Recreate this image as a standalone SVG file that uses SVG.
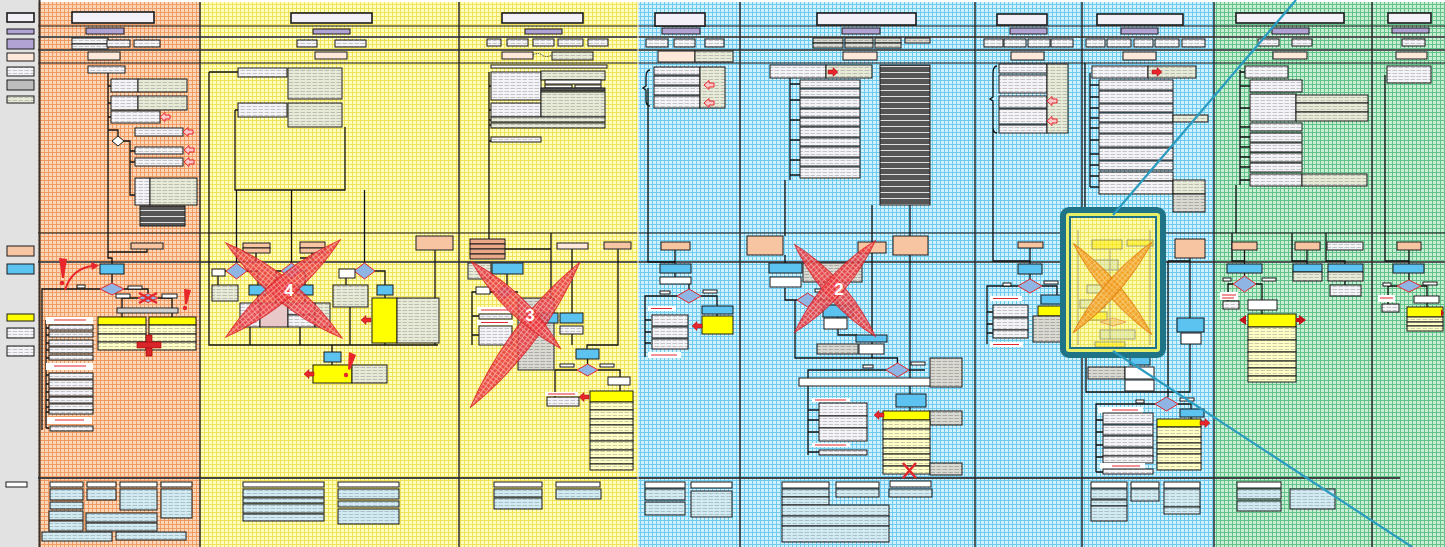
<svg xmlns="http://www.w3.org/2000/svg" width="1445" height="547" viewBox="0 0 1445 547">
<defs>
<pattern id="gO" width="4" height="4" patternUnits="userSpaceOnUse"><rect width="4" height="4" fill="#fbd6b8"/><path d="M0 .5H4M.5 0V4" stroke="#f09c62" stroke-width="1"/></pattern>
<pattern id="gY" width="4" height="4" patternUnits="userSpaceOnUse"><rect width="4" height="4" fill="#ffffc0"/><path d="M0 .5H4M.5 0V4" stroke="#f2e25a" stroke-width="1"/></pattern>
<pattern id="gB" width="4" height="4" patternUnits="userSpaceOnUse"><rect width="4" height="4" fill="#d0f1fd"/><path d="M0 .5H4M.5 0V4" stroke="#6ccbee" stroke-width="1"/></pattern>
<pattern id="gG" width="4" height="4" patternUnits="userSpaceOnUse"><rect width="4" height="4" fill="#c8eed4"/><path d="M0 .5H4M.5 0V4" stroke="#63c28a" stroke-width="1"/></pattern>
<pattern id="tW" width="6" height="3" patternUnits="userSpaceOnUse"><rect width="6" height="3" fill="#f4f3f8"/><path d="M.5 1.5H5" stroke="#a3a3a3" stroke-width=".6"/></pattern>
<pattern id="tB" width="6" height="3" patternUnits="userSpaceOnUse"><rect width="6" height="3" fill="#e7ead5"/><path d="M.5 1.5H5" stroke="#a0a0a0" stroke-width=".6"/></pattern>
<pattern id="tY" width="6" height="3" patternUnits="userSpaceOnUse"><rect width="6" height="3" fill="#ffffc6"/><path d="M.5 1.5H5" stroke="#a8a890" stroke-width=".6"/></pattern>
<pattern id="tL" width="6" height="3" patternUnits="userSpaceOnUse"><rect width="6" height="3" fill="#d2eaf2"/><path d="M.5 1.5H5" stroke="#8ea4ab" stroke-width=".6"/></pattern>
<pattern id="tG" width="6" height="3" patternUnits="userSpaceOnUse"><rect width="6" height="3" fill="#d9d9d2"/><path d="M.5 1.5H5" stroke="#8a8a8a" stroke-width=".6"/></pattern>
<pattern id="dS" width="4" height="6" patternUnits="userSpaceOnUse"><rect width="4" height="6" fill="#555"/><path d="M0 .5H4" stroke="#e0e0e0" stroke-width="1"/></pattern>
<pattern id="rh" width="4" height="4" patternUnits="userSpaceOnUse"><rect width="4" height="4" fill="#ec3237"/><path d="M0 .5H4M.5 0V4" stroke="#f6a3a3" stroke-width=".8"/></pattern>
<pattern id="oh" width="4" height="4" patternUnits="userSpaceOnUse"><rect width="4" height="4" fill="#f39a1f"/><path d="M0 .5H4M.5 0V4" stroke="#f9c870" stroke-width=".8"/></pattern>
<path id="aL" d="M0 0L5-4.5V-2H10V2H5V4.5Z"/>
<path id="aR" d="M0 0L-5-4.5V-2H-10V2H-5V4.5Z"/>
</defs>
<style>
.w{fill:url(#tW);stroke:#1a1a1a;stroke-width:1}
.t{fill:#f3f1f7;stroke:#1a1a1a;stroke-width:1.6}
.b{fill:url(#tB);stroke:#1a1a1a;stroke-width:1}
.g{fill:url(#tG);stroke:#1a1a1a;stroke-width:1}
.pk{fill:#f8c5a3;stroke:#1a1a1a;stroke-width:1}
.pl{fill:#fde8da;stroke:#1a1a1a;stroke-width:1}
.pu{fill:#b1a3d3;stroke:#1a1a1a;stroke-width:1}
.bl{fill:#5cc3f1;stroke:#1a1a1a;stroke-width:1}
.y{fill:#ffff00;stroke:#1a1a1a;stroke-width:1}
.ly{fill:url(#tY);stroke:#1a1a1a;stroke-width:1}
.lb{fill:url(#tL);stroke:#1a1a1a;stroke-width:1}
.dk{fill:url(#dS);stroke:#1a1a1a;stroke-width:1}
.hd{fill:#fff;stroke:#1a1a1a;stroke-width:1}
.dm{fill:#8fb5e4;stroke:#e3262c;stroke-width:1}
.rl{fill:#fff}
.ln{fill:none;stroke:#111;stroke-width:1.3}
.sep{stroke:#2b2b2b;stroke-width:1.5}
.ra{fill:#e8262b;stroke:#9c0d10;stroke-width:.5}
.ro{fill:#f9c8c8;stroke:#e8262b;stroke-width:1}
.xr{fill:url(#rh);stroke:#d81e24;stroke-width:1;opacity:.85}
.xo{fill:url(#oh);stroke:#e07d0c;stroke-width:1;opacity:.85}
.num{font-family:"Liberation Sans",Arial,sans-serif;font-weight:bold;font-size:17px;fill:#fff;text-anchor:middle}
</style>

<g id="background">
<rect x="0" y="0" width="1445" height="547" fill="#ffffff"/>
<rect x="0" y="0" width="38" height="547" fill="#e2e2e2"/>
<rect x="38" y="2" width="162" height="545" fill="url(#gO)"/>
<rect x="200" y="2" width="438" height="545" fill="url(#gY)"/>
<rect x="638" y="2" width="577" height="545" fill="url(#gB)"/>
<rect x="1215" y="2" width="230" height="545" fill="url(#gG)"/>
</g>

<g id="bands">
<path d="M38 26H1445" stroke="#111" stroke-width="1.2"/>
<path d="M38 37H1445M38 50H1445" stroke="#555" stroke-width="2"/>
<path d="M38 63H1445M38 233H1445" stroke="#111" stroke-width="1.2"/>
<path d="M38 262H1445" stroke="#555" stroke-width="2"/>
<path d="M38 478H1400" stroke="#444" stroke-width="2"/>
<path d="M39.5 0V547" stroke="#333" stroke-width="2"/>
<path d="M200 2V547M459 2V547M740 2V547M975 2V547M1082 2V547M1214 2V547M1372 2V547" class="sep"/>
<path d="M638 2V547" stroke="#f4f4e0" stroke-width="1"/>
</g>

<g id="legend">
<rect class="t" x="7" y="13" width="27" height="9"/>
<rect class="pu" x="7" y="29" width="27" height="5"/>
<rect class="pu" x="7" y="39" width="27" height="10"/>
<rect class="pl" x="7" y="53" width="27" height="8"/>
<rect class="w" x="7" y="67" width="27" height="9"/>
<rect class="g" x="7" y="80" width="27" height="10" style="fill:#bdbdbd"/>
<rect class="b" x="7" y="96" width="27" height="7"/>
<rect class="pk" x="7" y="246" width="27" height="10"/>
<rect class="bl" x="7" y="264" width="27" height="10"/>
<rect class="y" x="7" y="314" width="27" height="7"/>
<rect class="w" x="7" y="328" width="27" height="10"/>
<rect class="w" x="7" y="346" width="27" height="10"/>
<rect class="hd" x="6" y="482" width="21" height="5"/>
</g>

<g id="connectors">
<path class="ln" d="M108 73V252H147V249M108 252V258H112V264M112 274V283M100 289H42V430M124 289H148V293.5M138 298H122V308M158 298H172V308M122 313V317M172 313V317M108 86H111M108 103H111M108 117H111M108 130H118V136M124 141H130V195H135M130 151H135M130 162H135"/>
<path class="ln" d="M46 320V428M46 328H49M46 335H49M46 343H49M46 350H49M46 358H49M46 375H49M46 384H49M46 392H49M46 400H49M46 407H49M46 412H49M46 428H49"/>
<path class="ln" d="M209 72H238M209 72V345H438M235 110H238M235 110V190H345V127M236.5 190V263M291.5 190V263M364.5 190V263M226 271H218V285M247 271H258V285M281 271H276V303M302 271H305V285M354 271H346V285M375 271H385V285M385 295V298M258 295V303M305 295V303M256 253V263M312 253V258H300M435 250V345M250 327V345M300 327V345M350 307V345M385 342V345M332 345V353M332 362V365"/>
<path class="ln" d="M489 72V239M489 86H491M489 110H491M489 120H491M489 125H491M489 141H491M505 249H551V233M551 249V298M572 249V313M618 249V345H587V349M572 334V345M507 274V285M495 292H472V345M472 316H479M472 335H479M513 292H518M587.5 359V364M577 370H555V397M598 370H620V377M620 385V391"/>
<path class="ln" d="M648 88V262H675M675 250V264M675 273V277M689 284V289M677 296H645V357M645 320H651M645 332H651M645 343H651M701 296H717V306M717 314V316M650 70Q646 70 646 78V86L643 88L646 90V100Q646 106 650 106"/>
<path class="ln" d="M790 72V180M790 84H800M790 100H800M790 120H800M790 140H800M790 160H800M790 175H800M785 180V236M785 255V263M785 288V300H797M818 300H838V305M838 317V318M838 329V335H857M872 253V335M872 342V344M872 354V358M797 300H795V358H897.5V363M910 205V236M910 255V394M872 205V242M886 370H808V455M808 410H819M808 420H819M808 432H819M808 452H819M909 370H925M910 407V411"/>
<path class="ln" d="M997 66Q993 66 993 74V97L990 99L993 101V127Q993 133 997 133M993 101V261H1030V264M1030 248V261M1030 274V279M1018 286H987V344M987 312H993M987 324H993M987 333H993M1042 286H1057V295"/>
<path class="ln" d="M1085 63V212M1090 73V187M1090 85H1099M1090 97H1099M1090 108H1099M1090 118H1099M1090 128H1099M1090 140H1099M1090 154H1099M1090 165H1099M1090 176H1099M1090 187H1099M1086 355V392H1190V344M1190 258V318M1168 261H1190M1168 261V397M1155 404H1096V472M1096 420H1103M1096 432H1103M1096 445H1103M1096 457H1103M1096 472H1103M1178 404H1191V410M1191 417V419"/>
<path class="ln" d="M1240 70V185M1240 72H1245M1240 86H1250M1240 108H1250M1240 127H1250M1240 137H1250M1240 147H1250M1240 157H1250M1240 167H1250M1240 180H1250M1236 185V233M1232 233V261H1244.5M1244.5 250V264M1244.5 273V276M1233 284H1228V301M1256 284H1262V300M1262 310V314M1292 233V261H1307M1307 250V264M1326 233V261H1345V264M1345 281V285"/>
<path class="ln" d="M1385 75V261H1409M1409 250V264M1409 273V280M1397 286H1388V304M1421 286H1427V296M1427 303V307"/>
</g>

<g id="lane1">
<rect class="t" x="72" y="12" width="82" height="11"/>
<rect class="pu" x="86" y="28" width="38" height="6"/>
<rect class="w" x="72" y="38" width="36" height="6"/><rect class="w" x="72" y="44" width="36" height="5"/>
<rect class="w" x="107" y="40" width="23" height="7"/><rect class="w" x="134" y="40" width="26" height="7"/>
<rect class="pl" x="88" y="52" width="32" height="8"/>
<rect class="w" x="88" y="66" width="37" height="7"/>
<rect class="w" x="111" y="79" width="27" height="13"/><rect class="b" x="138" y="79" width="49" height="13"/>
<rect class="w" x="111" y="96" width="27" height="14"/><rect class="b" x="138" y="96" width="49" height="14"/>
<rect class="w" x="111" y="111" width="49" height="12"/>
<use href="#aL" class="ro" transform="translate(160 117)"/>
<polygon class="hd" points="112,141 118,136 124,141 118,146"/>
<rect class="w" x="135" y="128" width="48" height="8"/>
<use href="#aL" class="ro" transform="translate(183 132)"/>
<rect class="w" x="135" y="147" width="48" height="7"/>
<use href="#aL" class="ro" transform="translate(184 150)"/>
<rect class="w" x="135" y="158" width="48" height="8"/>
<use href="#aL" class="ro" transform="translate(184 162)"/>
<rect class="w" x="135" y="178" width="15" height="27"/><rect class="b" x="150" y="178" width="47" height="27"/>
<rect class="dk" x="140" y="206" width="45" height="20"/>
<rect class="pk" x="131" y="243" width="32" height="6"/>
<rect class="bl" x="100" y="264" width="24" height="10"/>
<polygon class="dm" points="100,289 112,283 124,289 112,295"/>
<rect class="hd" x="77" y="285" width="8" height="3"/>
<rect class="hd" x="128" y="286" width="14" height="3"/>
<polygon class="dm" points="138,298 148,293.5 158,298 148,302.5"/>
<path d="M139 293L157 303M139 303L157 293" stroke="#e3262c" stroke-width="2.5"/>
<rect class="hd" x="116" y="294" width="14" height="4"/><rect class="hd" x="162" y="294" width="15" height="4"/>
<rect x="117" y="308" width="61" height="5" fill="#d0d0d0" stroke="#222" stroke-width="1"/>
<rect class="y" x="98" y="317" width="48" height="8"/><rect class="y" x="149" y="317" width="47" height="8"/>
<rect class="ly" x="98" y="325" width="48" height="9"/><rect class="ly" x="98" y="334" width="48" height="8"/><rect class="ly" x="98" y="342" width="48" height="8"/>
<rect class="ly" x="149" y="325" width="47" height="9"/><rect class="ly" x="149" y="334" width="47" height="8"/><rect class="ly" x="149" y="342" width="47" height="8"/>
<rect x="146" y="335" width="6" height="21" fill="#d9262b" stroke="#900" stroke-width=".6"/>
<rect x="137" y="342" width="24" height="6" fill="#d9262b" stroke="#900" stroke-width=".6"/>
<rect class="rl" x="46" y="317" width="47" height="7"/>
<path d="M54 320H86" stroke="#e3262c" stroke-width="1"/>
<rect class="w" x="49" y="325" width="44" height="5"/><rect class="w" x="49" y="332" width="44" height="5"/><rect class="w" x="49" y="340" width="44" height="6"/><rect class="w" x="49" y="347" width="44" height="6"/><rect class="w" x="49" y="355" width="44" height="5"/>
<rect class="rl" x="46" y="363" width="47" height="7"/>
<path d="M54 366H86" stroke="#e3262c" stroke-width="1"/>
<rect class="w" x="49" y="373" width="44" height="6"/><rect class="w" x="49" y="380" width="44" height="8"/><rect class="w" x="49" y="389" width="44" height="7"/><rect class="w" x="49" y="397" width="44" height="6"/><rect class="w" x="49" y="404" width="44" height="6"/><rect class="w" x="49" y="410" width="44" height="4"/>
<rect class="rl" x="47" y="417" width="45" height="7"/>
<path d="M55 420H84" stroke="#e3262c" stroke-width="1"/>
<rect class="w" x="50" y="426" width="43" height="5"/>
<polygon points="59,258 67,259 64,278 62,278" fill="#e8262b"/><circle cx="62" cy="283" r="2.3" fill="#e8262b"/>
<polygon points="184,289 191,290 187,304 185,304" fill="#e8262b"/><circle cx="185" cy="308" r="2.2" fill="#e8262b"/>
<path d="M65 290Q72 268 93 266" fill="none" stroke="#e8262b" stroke-width="2"/>
<path d="M99 265.5L91 262L92 270Z" fill="#e8262b"/>
<rect class="hd" x="50" y="482" width="33" height="5"/><rect class="hd" x="87" y="482" width="29" height="5"/><rect class="hd" x="120" y="482" width="37" height="5"/><rect class="hd" x="161" y="482" width="31" height="5"/>
<rect class="lb" x="50" y="489" width="33" height="11"/><rect class="lb" x="50" y="502" width="33" height="7"/><rect class="lb" x="49" y="511" width="34" height="9"/><rect class="lb" x="49" y="521" width="34" height="10"/>
<rect class="lb" x="87" y="489" width="29" height="11"/><rect class="lb" x="120" y="489" width="37" height="21"/><rect class="lb" x="161" y="489" width="31" height="29"/>
<rect class="lb" x="86" y="513" width="71" height="9"/><rect class="lb" x="86" y="523" width="71" height="8"/><rect class="lb" x="42" y="532" width="70" height="9"/><rect class="lb" x="116" y="532" width="70" height="8"/>
</g>

<g id="lane2">
<rect class="t" x="291" y="13" width="81" height="10"/>
<rect class="pu" x="313" y="29" width="37" height="5"/>
<rect class="w" x="297" y="40" width="20" height="7"/><rect class="w" x="335" y="40" width="31" height="7"/>
<rect class="pl" x="315" y="52" width="32" height="7"/>
<rect class="w" x="238" y="68" width="49" height="9"/><rect class="b" x="288" y="68" width="54" height="31"/>
<rect class="w" x="238" y="103" width="49" height="14"/><rect class="b" x="288" y="103" width="54" height="24"/>
<rect class="pk" x="243" y="243" width="27" height="5"/><rect class="pk" x="243" y="248" width="27" height="5"/>
<rect class="pk" x="300" y="242" width="25" height="6"/><rect class="pk" x="300" y="248" width="25" height="5"/>
<rect class="pk" x="416" y="236" width="37" height="14"/>
<polygon class="dm" points="226,271 236.5,263 247,271 236.5,279"/>
<polygon class="dm" points="281,271 291.5,263 302,271 291.5,279"/>
<polygon class="dm" points="354,271 364.5,263 375,271 364.5,279"/>
<rect class="hd" x="212" y="269" width="13" height="7"/>
<rect class="hd" x="339" y="269" width="16" height="9"/>
<rect class="b" x="212" y="285" width="26" height="16"/>
<rect class="bl" x="249" y="285" width="17" height="10"/><rect class="bl" x="297" y="285" width="16" height="10"/>
<rect class="w" x="240" y="303" width="20" height="24"/><rect x="260" y="303" width="28" height="24" fill="#e8c8c8" stroke="#1a1a1a"/><rect class="w" x="288" y="303" width="27" height="12"/><rect class="w" x="288" y="315" width="27" height="12"/><rect class="b" x="315" y="303" width="15" height="24"/>
<rect class="b" x="333" y="285" width="35" height="22"/>
<rect class="bl" x="377" y="285" width="16" height="10"/>
<rect class="y" x="372" y="298" width="25" height="45"/><rect class="b" x="397" y="298" width="42" height="45"/>
<use href="#aL" class="ra" transform="translate(361 320)"/>
<rect class="bl" x="324" y="352" width="17" height="10"/>
<rect class="y" x="313" y="365" width="39" height="18"/><rect class="b" x="352" y="365" width="35" height="18"/>
<use href="#aL" class="ra" transform="translate(304 374)"/>
<polygon points="349,352 356,355 350,370 348,369" fill="#e8262b"/><circle cx="346" cy="375" r="2.2" fill="#e8262b"/>
<rect class="hd" x="243" y="482" width="81" height="5"/><rect class="hd" x="338" y="482" width="61" height="5"/>
<rect class="lb" x="243" y="489" width="81" height="8"/><rect class="lb" x="243" y="498" width="81" height="5"/><rect class="lb" x="243" y="504" width="81" height="9"/><rect class="lb" x="243" y="514" width="81" height="7"/>
<rect class="lb" x="338" y="489" width="61" height="10"/><rect class="lb" x="338" y="501" width="61" height="6"/><rect class="lb" x="338" y="509" width="61" height="15"/>
</g>

<g id="lane3">
<rect class="t" x="502" y="13" width="81" height="10"/>
<rect class="pu" x="525" y="29" width="37" height="5"/>
<rect class="w" x="487" y="39" width="14" height="7"/><rect class="w" x="507" y="39" width="21" height="7"/><rect class="w" x="533" y="39" width="21" height="7"/><rect class="w" x="558" y="39" width="25" height="7"/><rect class="w" x="588" y="39" width="20" height="7"/>
<rect class="pl" x="502" y="52" width="31" height="7"/>
<path d="M533 55Q538 52 542 55Q546 58 552 55" fill="none" stroke="#222" stroke-width=".8" stroke-dasharray="1.5 1"/>
<rect class="b" x="552" y="52" width="41" height="8"/>
<rect class="hd" x="491" y="65" width="116" height="3"/>
<rect class="w" x="491" y="72" width="50" height="28"/><rect class="b" x="541" y="71" width="64" height="9"/>
<rect class="hd" x="545" y="80" width="56" height="4"/><rect class="hd" x="545" y="85" width="27" height="3"/><rect class="hd" x="575" y="85" width="26" height="3"/>
<rect x="541" y="88" width="64" height="3" fill="#555" stroke="#1a1a1a"/>
<rect class="w" x="491" y="103" width="50" height="14"/><rect class="b" x="541" y="92" width="64" height="25"/>
<rect class="b" x="491" y="117" width="114" height="5"/><rect class="b" x="491" y="123" width="114" height="5"/>
<rect class="w" x="491" y="137" width="50" height="5"/>
<rect class="pk" x="470" y="239" width="35" height="5" style="fill:#e9a888"/><rect class="pk" x="470" y="244" width="35" height="5" style="fill:#e9a888"/><rect class="pk" x="470" y="249" width="35" height="5" style="fill:#e9a888"/><rect class="pk" x="470" y="254" width="35" height="5" style="fill:#e9a888"/>
<rect class="pl" x="557" y="243" width="31" height="6"/>
<rect class="pk" x="604" y="242" width="27" height="7"/>
<rect class="b" x="468" y="263" width="23" height="16"/><rect class="bl" x="492" y="263" width="31" height="11"/>
<polygon class="dm" points="495,292 504,285 513,292 504,299"/>
<rect class="hd" x="476" y="287" width="14" height="7"/>
<rect class="rl" x="477" y="307" width="36" height="6"/><path d="M481 310H508" stroke="#e3262c"/>
<rect class="w" x="479" y="314" width="33" height="5"/>
<rect class="rl" x="477" y="320" width="36" height="5"/><path d="M481 322.5H508" stroke="#e3262c"/>
<rect class="w" x="479" y="326" width="33" height="19"/>
<rect class="g" x="518" y="298" width="36" height="72"/>
<rect class="bl" x="540" y="313" width="18" height="10"/><rect class="bl" x="560" y="313" width="23" height="10"/>
<rect class="w" x="560" y="326" width="23" height="8"/>
<rect class="bl" x="576" y="349" width="23" height="10"/>
<polygon class="dm" points="577,370 587.5,364 598,370 587.5,376"/>
<rect class="hd" x="560" y="364" width="14" height="3"/><rect class="hd" x="600" y="364" width="14" height="3"/>
<rect class="hd" x="608" y="377" width="22" height="8"/>
<rect class="y" x="590" y="391" width="43" height="11"/>
<rect class="ly" x="590" y="402" width="43" height="8"/><rect class="ly" x="590" y="410" width="43" height="9"/><rect class="ly" x="590" y="419" width="43" height="6"/><rect class="ly" x="590" y="425" width="43" height="8"/><rect class="ly" x="590" y="433" width="43" height="8"/><rect class="ly" x="590" y="441" width="43" height="9"/><rect class="ly" x="590" y="450" width="43" height="8"/><rect class="ly" x="590" y="458" width="43" height="6"/><rect class="ly" x="590" y="464" width="43" height="6"/>
<use href="#aL" class="ra" transform="translate(579 397)"/>
<rect class="rl" x="545" y="392" width="33" height="4"/><path d="M548 394H575" stroke="#e3262c"/>
<rect class="w" x="547" y="397" width="32" height="9"/>
<rect class="hd" x="494" y="482" width="48" height="5"/><rect class="hd" x="556" y="482" width="44" height="5"/>
<rect class="lb" x="494" y="489" width="48" height="8"/><rect class="lb" x="494" y="498" width="48" height="11"/><rect class="lb" x="556" y="489" width="45" height="10"/>
</g>

<g id="lane4">
<rect class="t" x="655" y="13" width="50" height="13"/>
<rect class="pu" x="662" y="28" width="38" height="6"/>
<rect class="w" x="646" y="39" width="22" height="8"/><rect class="w" x="674" y="39" width="21" height="8"/><rect class="w" x="705" y="39" width="19" height="8"/>
<rect class="pl" x="658" y="51" width="37" height="11"/><rect class="b" x="695" y="51" width="38" height="11"/>
<rect class="w" x="654" y="67" width="46" height="8"/><rect class="w" x="654" y="76" width="46" height="9"/><rect class="w" x="654" y="86" width="46" height="9"/><rect class="w" x="654" y="96" width="46" height="12"/>
<rect class="b" x="700" y="67" width="25" height="41"/>
<use href="#aL" class="ro" transform="translate(704 85)"/>
<use href="#aL" class="ro" transform="translate(704 103)"/>
<rect class="pk" x="661" y="242" width="29" height="8"/>
<rect class="bl" x="660" y="264" width="31" height="9"/>
<rect class="hd" x="660" y="277" width="31" height="7"/>
<polygon class="dm" points="677,296 689,289 701,296 689,303"/>
<rect class="hd" x="660" y="291" width="10" height="3"/><rect class="hd" x="703" y="290" width="14" height="3"/>
<rect class="bl" x="702" y="306" width="31" height="8"/>
<rect class="y" x="702" y="316" width="31" height="18"/>
<use href="#aL" class="ra" transform="translate(692 326)"/>
<rect class="rl" x="648" y="306" width="28" height="5"/><path d="M651 308.5H672" stroke="#e3262c"/>
<rect class="w" x="652" y="315" width="36" height="11"/><rect class="w" x="652" y="327" width="36" height="11"/><rect class="w" x="652" y="339" width="36" height="10"/>
<rect class="rl" x="648" y="352" width="33" height="6"/><path d="M651 355H677" stroke="#e3262c"/>
<rect class="hd" x="645" y="482" width="40" height="6"/><rect class="hd" x="691" y="482" width="41" height="6"/>
<rect class="lb" x="645" y="489" width="40" height="11"/><rect class="lb" x="645" y="502" width="40" height="13"/><rect class="lb" x="691" y="491" width="41" height="26"/>
</g>

<g id="lane5">
<rect class="t" x="817" y="13" width="99" height="12"/>
<rect class="pu" x="842" y="28" width="38" height="6"/>
<rect class="g" x="813" y="38" width="30" height="5"/><rect class="g" x="845" y="38" width="28" height="5"/><rect class="g" x="875" y="38" width="26" height="5"/><rect class="g" x="905" y="38" width="25" height="5"/>
<rect class="g" x="813" y="43" width="30" height="5"/><rect class="g" x="845" y="43" width="28" height="5"/><rect class="g" x="875" y="43" width="26" height="5"/>
<rect class="pl" x="843" y="52" width="34" height="8"/>
<rect class="w" x="770" y="65" width="56" height="13"/><rect class="b" x="826" y="65" width="46" height="13"/>
<use href="#aR" class="ra" transform="translate(838 72)"/>
<rect class="w" x="800" y="80" width="60" height="8"/><rect class="w" x="800" y="89" width="60" height="8"/><rect class="w" x="800" y="98" width="60" height="10"/><rect class="w" x="800" y="109" width="60" height="8"/><rect class="w" x="800" y="118" width="60" height="8"/><rect class="w" x="800" y="127" width="60" height="10"/><rect class="w" x="800" y="138" width="60" height="8"/><rect class="w" x="800" y="147" width="60" height="10"/><rect class="w" x="800" y="158" width="60" height="8"/><rect class="w" x="800" y="167" width="60" height="11"/>
<rect class="dk" x="880" y="65" width="50" height="140"/>
<rect class="pk" x="747" y="236" width="36" height="19"/>
<rect class="pk" x="858" y="242" width="28" height="11"/>
<rect class="pk" x="893" y="236" width="35" height="19"/>
<rect class="bl" x="769" y="263" width="33" height="10"/><rect class="g" x="803" y="263" width="59" height="19"/>
<rect class="hd" x="770" y="277" width="31" height="10"/>
<polygon class="dm" points="797,300 807.5,293 818,300 807.5,307"/>
<rect class="hd" x="815" y="289" width="14" height="3"/>
<rect class="bl" x="823" y="305" width="30" height="12"/>
<rect class="hd" x="824" y="318" width="23" height="11"/>
<rect class="bl" x="856" y="335" width="31" height="7"/>
<rect class="g" x="817" y="344" width="41" height="10"/><rect class="hd" x="859" y="344" width="25" height="10"/>
<polygon class="dm" points="886,370 897.5,363 909,370 897.5,377"/>
<rect class="hd" x="863" y="365" width="10" height="3"/><rect class="hd" x="911" y="362" width="14" height="3"/>
<rect class="hd" x="799" y="378" width="132" height="8"/>
<rect class="g" x="930" y="358" width="32" height="29"/>
<rect class="bl" x="896" y="394" width="30" height="13"/>
<rect class="y" x="883" y="411" width="47" height="9"/><rect class="g" x="930" y="411" width="32" height="14"/>
<use href="#aL" class="ra" transform="translate(874 415)"/>
<rect class="ly" x="883" y="420" width="47" height="9"/><rect class="ly" x="883" y="429" width="47" height="10"/><rect class="ly" x="883" y="439" width="47" height="9"/><rect class="ly" x="883" y="448" width="47" height="6"/><rect class="ly" x="883" y="454" width="47" height="6"/><rect class="ly" x="883" y="460" width="47" height="6"/><rect class="ly" x="883" y="466" width="47" height="8"/>
<rect class="g" x="930" y="463" width="32" height="12"/>
<path d="M903 463L916 478M916 463L903 478" stroke="#e3262c" stroke-width="2.5"/>
<rect class="rl" x="812" y="398" width="38" height="4"/><path d="M815 400H846" stroke="#e3262c"/>
<rect class="w" x="819" y="403" width="48" height="13"/><rect class="w" x="819" y="416" width="48" height="12"/><rect class="w" x="819" y="428" width="48" height="13"/>
<rect class="rl" x="812" y="443" width="38" height="4"/><path d="M815 445H846" stroke="#e3262c"/>
<rect class="w" x="819" y="450" width="48" height="5"/>
<rect class="hd" x="782" y="482" width="47" height="6"/><rect class="hd" x="836" y="482" width="43" height="6"/><rect class="hd" x="890" y="481" width="41" height="6"/>
<rect class="lb" x="782" y="489" width="47" height="8"/><rect class="lb" x="782" y="497" width="47" height="8"/><rect class="lb" x="836" y="489" width="43" height="8"/><rect class="lb" x="889" y="489" width="43" height="8"/>
<rect class="lb" x="782" y="505" width="107" height="11"/><rect class="lb" x="782" y="516" width="107" height="10"/><rect class="lb" x="782" y="526" width="107" height="16"/>
</g>

<g id="lane6">
<rect class="t" x="997" y="14" width="50" height="11"/>
<rect class="pu" x="1010" y="28" width="37" height="6"/>
<rect class="w" x="984" y="39" width="19" height="8"/><rect class="w" x="1004" y="39" width="22" height="8"/><rect class="w" x="1028" y="39" width="22" height="8"/><rect class="w" x="1051" y="39" width="22" height="8"/>
<rect class="pl" x="1011" y="52" width="33" height="8"/>
<rect class="w" x="999" y="64" width="48" height="9"/><rect class="w" x="999" y="75" width="48" height="18"/><rect class="w" x="999" y="96" width="48" height="12"/><rect class="w" x="999" y="109" width="48" height="15"/><rect class="w" x="999" y="125" width="48" height="8"/>
<rect class="b" x="1047" y="64" width="21" height="69"/>
<use href="#aL" class="ro" transform="translate(1047 101)"/>
<use href="#aL" class="ro" transform="translate(1047 121)"/>
<rect class="pk" x="1018" y="242" width="25" height="6"/>
<rect class="bl" x="1018" y="264" width="24" height="10"/>
<polygon class="dm" points="1018,286 1030,279 1042,286 1030,293"/>
<rect class="hd" x="1003" y="283" width="8" height="3"/><rect class="hd" x="1044" y="281" width="14" height="3"/>
<rect class="bl" x="1041" y="295" width="31" height="9"/>
<rect class="y" x="1038" y="306" width="35" height="10"/>
<rect class="g" x="1033" y="316" width="44" height="26"/>
<rect class="rl" x="990" y="296" width="32" height="5"/><path d="M993 298.5H1018" stroke="#e3262c"/>
<rect class="w" x="993" y="305" width="35" height="12"/><rect class="w" x="993" y="318" width="35" height="12"/><rect class="w" x="993" y="330" width="35" height="8"/>
<rect class="rl" x="990" y="342" width="33" height="5"/><path d="M993 344.5H1019" stroke="#e3262c"/>
</g>

<g id="lane7">
<rect class="t" x="1097" y="14" width="86" height="11"/>
<rect class="pu" x="1121" y="28" width="37" height="6"/>
<rect class="w" x="1086" y="39" width="19" height="8"/><rect class="w" x="1107" y="39" width="24" height="8"/><rect class="w" x="1134" y="39" width="19" height="8"/><rect class="w" x="1155" y="39" width="24" height="8"/><rect class="w" x="1182" y="39" width="23" height="8"/>
<rect class="pl" x="1123" y="52" width="33" height="8"/>
<rect class="w" x="1092" y="66" width="56" height="12"/><rect class="b" x="1148" y="66" width="48" height="12"/>
<use href="#aR" class="ra" transform="translate(1162 72)"/>
<rect class="w" x="1099" y="80" width="74" height="10"/><rect class="w" x="1099" y="91" width="74" height="12"/><rect class="w" x="1099" y="104" width="74" height="8"/><rect class="w" x="1099" y="113" width="74" height="9"/><rect class="w" x="1099" y="123" width="74" height="10"/><rect class="w" x="1099" y="134" width="74" height="13"/><rect class="w" x="1099" y="148" width="74" height="12"/><rect class="w" x="1099" y="161" width="74" height="9"/><rect class="w" x="1099" y="172" width="74" height="9"/><rect class="w" x="1099" y="181" width="74" height="13"/>
<rect class="b" x="1173" y="115" width="35" height="7"/>
<rect class="b" x="1173" y="180" width="32" height="14"/><rect class="g" x="1173" y="194" width="32" height="18"/>
<rect class="pk" x="1175" y="239" width="30" height="19"/>
<rect class="bl" x="1177" y="318" width="27" height="14"/>
<rect class="hd" x="1181" y="333" width="20" height="11"/>
<rect class="bl" x="1130" y="357" width="20" height="8"/>
<rect class="g" x="1088" y="367" width="37" height="12"/><rect class="hd" x="1125" y="367" width="29" height="12"/><rect class="hd" x="1125" y="380" width="29" height="11"/>
<polygon class="dm" points="1155,404 1166.5,397 1178,404 1166.5,411"/>
<rect class="hd" x="1136" y="400" width="8" height="3"/><rect class="hd" x="1180" y="398" width="14" height="3"/>
<rect class="bl" x="1180" y="409" width="24" height="8"/>
<rect class="y" x="1157" y="419" width="44" height="8"/>
<rect class="ly" x="1157" y="427" width="44" height="10"/><rect class="ly" x="1157" y="437" width="44" height="6"/><rect class="ly" x="1157" y="443" width="44" height="6"/><rect class="ly" x="1157" y="449" width="44" height="5"/><rect class="ly" x="1157" y="454" width="44" height="9"/><rect class="ly" x="1157" y="463" width="44" height="7"/>
<use href="#aR" class="ra" transform="translate(1210 423)"/>
<rect class="rl" x="1098" y="407" width="45" height="6"/><path d="M1112 410H1138" stroke="#e3262c"/>
<rect class="w" x="1103" y="413" width="50" height="11"/><rect class="w" x="1103" y="425" width="50" height="10"/><rect class="w" x="1103" y="436" width="50" height="11"/><rect class="w" x="1103" y="448" width="50" height="8"/><rect class="w" x="1103" y="456" width="50" height="7"/>
<rect class="rl" x="1100" y="463" width="45" height="6"/><path d="M1112 466H1140" stroke="#e3262c"/>
<rect class="w" x="1103" y="469" width="50" height="5"/>
<rect class="hd" x="1091" y="482" width="36" height="6"/><rect class="hd" x="1131" y="482" width="28" height="6"/><rect class="hd" x="1164" y="482" width="36" height="6"/>
<rect class="lb" x="1091" y="489" width="36" height="10"/><rect class="lb" x="1091" y="500" width="36" height="6"/><rect class="lb" x="1091" y="506" width="36" height="15"/><rect class="lb" x="1131" y="489" width="28" height="12"/><rect class="lb" x="1164" y="489" width="36" height="18"/><rect class="lb" x="1164" y="507" width="36" height="7"/>
</g>

<g id="lane8">
<rect class="t" x="1236" y="13" width="108" height="10"/>
<rect class="pu" x="1272" y="28" width="37" height="6"/>
<rect class="w" x="1258" y="39" width="21" height="7"/><rect class="w" x="1292" y="39" width="20" height="7"/>
<rect class="pl" x="1273" y="52" width="34" height="7"/>
<rect class="w" x="1245" y="66" width="43" height="12"/>
<rect class="w" x="1250" y="80" width="52" height="12"/>
<rect class="w" x="1250" y="94" width="46" height="27"/>
<rect class="b" x="1296" y="95" width="72" height="8"/><rect class="b" x="1296" y="103" width="72" height="9"/><rect class="b" x="1296" y="112" width="72" height="9"/>
<rect class="w" x="1250" y="123" width="52" height="8"/><rect class="w" x="1250" y="133" width="52" height="9"/><rect class="w" x="1250" y="143" width="52" height="9"/><rect class="w" x="1250" y="153" width="52" height="9"/><rect class="w" x="1250" y="163" width="52" height="9"/><rect class="w" x="1250" y="174" width="52" height="12"/>
<rect class="b" x="1302" y="174" width="65" height="12"/>
<rect class="pk" x="1232" y="242" width="25" height="8"/>
<rect class="pk" x="1295" y="242" width="25" height="8"/>
<rect class="w" x="1327" y="242" width="36" height="8"/>
<rect class="bl" x="1227" y="264" width="35" height="9"/>
<rect class="bl" x="1293" y="264" width="29" height="8"/><rect class="b" x="1293" y="272" width="29" height="9"/>
<rect class="bl" x="1328" y="264" width="35" height="8"/><rect class="b" x="1328" y="272" width="35" height="9"/>
<rect class="w" x="1330" y="285" width="31" height="11"/>
<polygon class="dm" points="1233,284 1244.5,276 1256,284 1244.5,292"/>
<rect class="hd" x="1223" y="278" width="8" height="3"/><rect class="hd" x="1262" y="278" width="14" height="3"/>
<rect class="rl" x="1220" y="292" width="18" height="8"/><path d="M1222 295H1236M1222 298H1234" stroke="#e3262c"/>
<rect class="w" x="1223" y="301" width="16" height="8"/>
<rect class="hd" x="1248" y="300" width="29" height="10"/>
<rect class="y" x="1248" y="314" width="48" height="13"/>
<rect class="ly" x="1248" y="327" width="48" height="13"/><rect class="ly" x="1248" y="340" width="48" height="12"/><rect class="ly" x="1248" y="352" width="48" height="9"/><rect class="ly" x="1248" y="361" width="48" height="7"/><rect class="ly" x="1248" y="368" width="48" height="8"/><rect class="ly" x="1248" y="376" width="48" height="6"/>
<path d="M1239 320L1246 315V325Z" fill="#c4121a"/>
<path d="M1306 320L1299 315V325Z" fill="#c4121a"/>
<rect x="1296" y="318" width="4" height="4" fill="#c4121a"/>
<rect class="hd" x="1237" y="482" width="44" height="6"/>
<rect class="lb" x="1237" y="489" width="44" height="10"/><rect class="lb" x="1237" y="501" width="44" height="10"/><rect class="lb" x="1290" y="489" width="45" height="20"/>
</g>

<g id="lane9">
<rect class="t" x="1388" y="13" width="43" height="10"/>
<rect class="pu" x="1392" y="28" width="37" height="5"/>
<rect class="w" x="1402" y="39" width="23" height="7"/>
<rect class="pl" x="1396" y="52" width="31" height="7"/>
<rect class="w" x="1387" y="66" width="44" height="17"/>
<rect class="pk" x="1397" y="242" width="24" height="8"/>
<rect class="bl" x="1393" y="264" width="31" height="9"/>
<polygon class="dm" points="1397,286 1409,280 1421,286 1409,292"/>
<rect class="hd" x="1383" y="283" width="8" height="3"/><rect class="hd" x="1423" y="282" width="14" height="3"/>
<rect class="rl" x="1378" y="295" width="17" height="7"/><path d="M1380 298H1393" stroke="#e3262c"/>
<rect class="w" x="1382" y="304" width="17" height="8"/>
<rect class="hd" x="1414" y="296" width="25" height="7"/>
<rect class="y" x="1407" y="307" width="36" height="10"/>
<rect class="ly" x="1407" y="317" width="36" height="5"/><rect class="ly" x="1407" y="322" width="36" height="4"/><rect class="ly" x="1407" y="326" width="36" height="5"/>
<path d="M1444 313L1441 309V317Z" fill="#c4121a"/>
</g>

<g id="highlight">
<rect x="1063" y="210" width="100" height="145" rx="6" fill="#e6ee68" stroke="#1e7387" stroke-width="6"/>
<rect x="1070" y="217" width="86" height="131" fill="url(#gY)" fill-opacity=".85" stroke="#1e7387" stroke-width="2"/>
<g opacity=".5">
<rect x="1092" y="240" width="30" height="9" fill="#ffea00" stroke="#555"/>
<rect x="1127" y="240" width="26" height="6" fill="#ffea00" stroke="#555"/>
<rect x="1092" y="260" width="26" height="10" fill="#d7e4b5" stroke="#555"/>
<rect x="1087" y="285" width="30" height="8" fill="#d7e4b5" stroke="#555"/>
<rect x="1080" y="300" width="25" height="8" fill="#d7e4b5" stroke="#555"/>
<rect x="1085" y="312" width="22" height="8" fill="#ffea00" stroke="#555"/>
<polygon points="1100,322 1113,318 1126,322 1113,326" fill="#f3c06a" stroke="#e05a2a"/>
<rect x="1100" y="330" width="35" height="9" fill="#d7e4b5" stroke="#555"/>
<rect x="1095" y="342" width="30" height="5" fill="#ffea00" stroke="#555"/>
<path d="M1078 230V345M1150 230V345M1110 250V340" stroke="#555"/>
</g>
<path class="xo" transform="translate(1112.5 289) rotate(49.3)" d="M-60 0Q0-14 60 0Q0 14-60 0Z"/>
<path class="xo" transform="translate(1112.5 287.5) rotate(131)" d="M-60 0Q0-14 60 0Q0 14-60 0Z"/>
</g>

<g id="crosses">
<path class="xr" transform="translate(284 290.5) rotate(39.3)" d="M-75 0Q0-22 75 0Q0 22-75 0Z"/>
<path class="xr" transform="translate(283 288.5) rotate(139.6)" d="M-75 0Q0-22 75 0Q0 22-75 0Z"/>
<text class="num" x="289" y="296">4</text>
<path class="xr" transform="translate(525 335) rotate(127)" d="M-91 0Q0-22 91 0Q0 22-91 0Z"/>
<path class="xr" transform="translate(516 305) rotate(44.3)" d="M-62 0Q0-18 62 0Q0 18-62 0Z"/>
<text class="num" x="530" y="321">3</text>
<path class="xr" transform="translate(835 290.5) rotate(48.7)" d="M-61 0Q0-18 61 0Q0 18-61 0Z"/>
<path class="xr" transform="translate(835 286.5) rotate(131.3)" d="M-61 0Q0-18 61 0Q0 18-61 0Z"/>
<text class="num" x="839" y="295">2</text>
</g>

<g id="diagonal">
<path d="M1296 0L1113 215M1113 351L1412 547" stroke="#2b9cc0" stroke-width="2.2" fill="none"/>
</g>
</svg>
